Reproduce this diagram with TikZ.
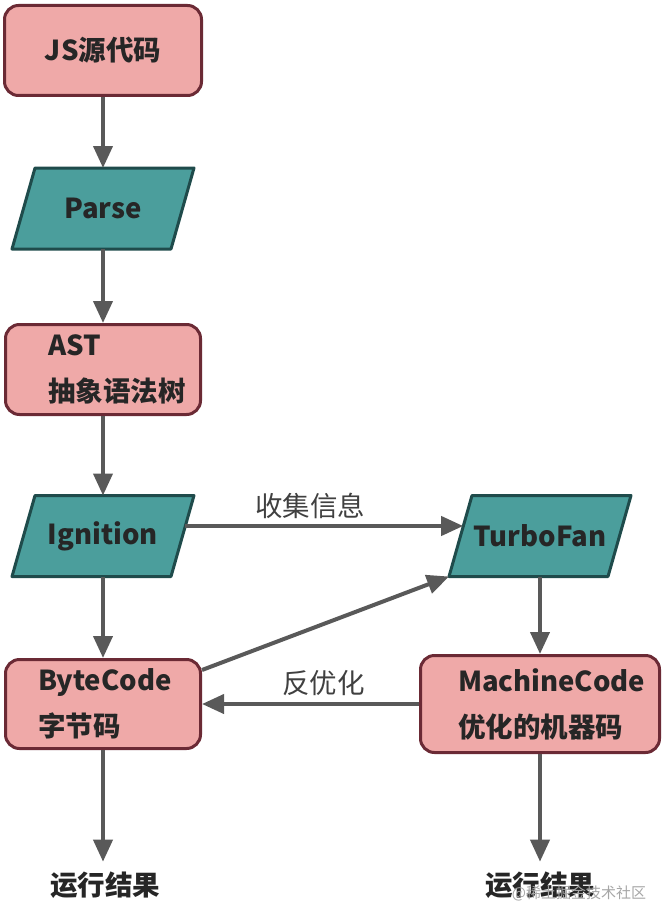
\documentclass[tikz,border=0pt]{standalone}
\usepackage{fontspec}
\setmainfont{Noto Sans CJK SC}
\usetikzlibrary{arrows.meta,backgrounds}
\definecolor{pinkfill}{HTML}{EFA9A8}
\definecolor{pinkline}{HTML}{6B2A35}
\definecolor{tealfill}{HTML}{4B9E9C}
\definecolor{tealline}{HTML}{1F4B4B}
\definecolor{arrowgray}{HTML}{595959}
\definecolor{txtdark}{HTML}{262626}
\definecolor{lbl}{HTML}{404040}
\newcommand\dgfont{\fontsize{27.5pt}{46pt}\selectfont}
\begin{document}
\begin{tikzpicture}[x=1pt,y=-1pt,
  pinkbox/.style={draw=pinkline, fill=pinkfill, line width=3pt, rounded corners=14pt,
    inner sep=0pt, font=\dgfont\bfseries, text=txtdark},
  para/.style={shape=rectangle, minimum width=182pt, minimum height=81pt,
    inner sep=0pt, outer sep=0pt, font=\dgfont\bfseries, text=txtdark},
  parashape/.style={draw=tealline, fill=tealfill, line width=3pt, line join=round},
  result/.style={font=\dgfont\bfseries, text=txtdark, inner sep=0pt, outer sep=10pt},
  flow/.style={draw=arrowgray, line width=4pt, -{Triangle[width=19pt,length=22pt]}},
  edgelbl/.style={font=\dgfont, text=lbl, inner sep=0pt}]
\useasboundingbox (0,0) rectangle (664,923);

\node[pinkbox, minimum width=197pt, minimum height=90pt] (js) at (103,50.5) {JS源代码};
\node[para] (parse) at (103,208.5) {Parse};
\node[pinkbox, minimum width=195pt, minimum height=90pt, text width=110pt, align=left] (ast) at (103,369.5) {AST\\抽象语法树};
\node[para] (ign) at (103,536) {Ignition};
\node[para] (tf) at (540,536) {TurboFan};
\node[pinkbox, minimum width=195pt, minimum height=89pt, text width=130pt, align=left] (bc) at (103,704) {ByteCode\\字节码};
\node[pinkbox, minimum width=239pt, minimum height=97pt, text width=164pt, align=left] (mc) at (540,704) {MachineCode\\优化的机器码};
\node[result] (r1) at (105,885) {运行结果};
\node[result] (r2) at (540,885) {运行结果};
\node[font=\fontsize{15pt}{18pt}\selectfont, text=gray!70, inner sep=0pt] (wm) at (579,893) {@稀土掘金技术社区};

\begin{scope}[on background layer]
  \foreach \n in {parse,ign,tf}{
    \draw[parashape] ([xshift=23pt]\n.north west) -- (\n.north east)
      -- ([xshift=-23pt]\n.south east) -- (\n.south west) -- cycle;
  }
\end{scope}

\draw[flow] (js) -- (parse);
\draw[flow] (parse) -- (ast);
\draw[flow] (ast) -- (ign);
\draw[flow] (ign) -- (bc);
\draw[flow] ([yshift=10pt,xshift=-8.8pt]ign.east) -- node[edgelbl, pos=0.45, above=5pt] {收集信息} ([yshift=10pt,xshift=14.2pt]tf.west);
\draw[flow] (tf) -- (mc);
\draw[flow] ([yshift=-12pt]bc.north east) -- (tf.south west);
\draw[flow] (mc.west) -- node[edgelbl, pos=0.44, above=6pt] {反优化} (bc.east);
\draw[flow] (bc.south) -- (bc.south |- r1.north);
\draw[flow] (mc.south) -- (r2.north);
\end{tikzpicture}
\end{document}
